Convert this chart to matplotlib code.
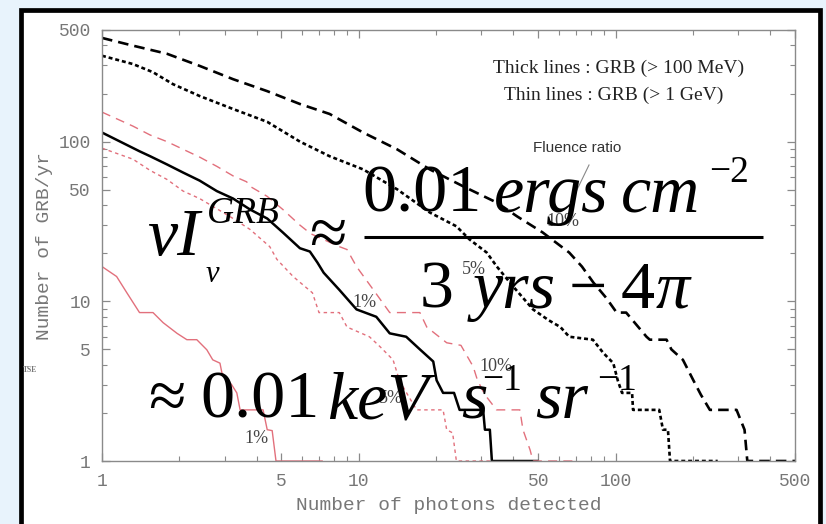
import matplotlib
matplotlib.use("Agg")
import matplotlib.pyplot as plt
from matplotlib.patches import Rectangle
from matplotlib.ticker import FixedLocator, NullFormatter, FixedFormatter

# ---- data: cumulative GRB rate vs. number of detected photons ----
# thick lines: GRB (> 100 MeV), fluence ratio 10%, 5%, 1%
hi10_x = [1, 1.32, 1.79, 2.4, 3.24, 4.4, 5.9, 7.7, 10.4, 14.1, 18.9, 25.5, 34.5, 41.4, 52, 66, 74, 82, 92,
          101, 110, 120, 132, 136, 158, 165, 183, 201, 215, 233, 296, 318, 326, 500]
hi10_y = [446, 399, 355, 298, 246, 207, 172, 149, 114, 89.5, 67, 52.5, 41.5, 34, 27, 20.2, 16.5, 13.1, 10.5,
          8.5, 8.5, 7.2, 6.0, 5.75, 5.75, 5.0, 4.3, 3.2, 2.6, 2.09, 2.09, 1.57, 1.0, 1.0]

hi5_x = [1, 1.32, 1.58, 1.89, 2.4, 3.24, 4.4, 5.9, 7.7, 10.4, 14.1, 18.9, 24, 27, 31.5, 34.5, 39.9, 47.7, 55,
         61, 66, 81.6, 89.5, 98, 102, 106, 116, 117, 148, 153, 160, 163, 250]
hi5_y = [345, 306, 272, 229, 193, 160, 133, 100, 81, 67, 50.3, 36, 29.5, 24.4, 20.2, 16.5, 12.4, 8.9, 7.6,
         6.9, 6.0, 5.75, 4.76, 4.1, 3.2, 2.67, 2.67, 2.09, 2.09, 1.57, 1.57, 1.0, 1.0]

hi1_x = [1, 1.4, 1.54, 1.79, 2.07, 2.4, 2.8, 3.24, 3.77, 4.4, 5.06, 5.9, 6.45, 6.9, 7.3, 8.4, 9.8, 11.7, 13.2,
         15.3, 17.3, 19.5, 20.1, 21.3, 23.5, 24.7, 30.5, 31, 32.4, 33, 49.6]
hi1_y = [114, 87, 81, 72, 64, 57, 49, 44, 37.6, 33, 27, 21.5, 20.5, 17.5, 15.1, 11.8, 8.9, 8.0, 6.3,
         6.0, 5.0, 4.2, 3.2, 2.67, 2.67, 2.09, 2.09, 1.57, 1.57, 1.0, 1.0]

# thin lines: GRB (> 1 GeV), fluence ratio 10%, 5%, 1%
lo10_x = [1, 1.32, 1.54, 1.79, 2.07, 2.4, 2.8, 3.24, 3.66, 3.77, 4.4, 5.06, 5.9, 6.5, 8.4, 9.0, 9.8, 11.4,
          13.2, 17.3, 18.4, 22, 25, 27.9, 29, 31, 34.4, 42.4, 43.6, 46.5, 47.7, 71]
lo10_y = [153, 125, 110, 100, 89.5, 80, 70, 61, 56, 52.5, 45.4, 37.6, 30, 26.5, 22, 21.1, 16.5, 11.8,
          8.5, 8.5, 6.9, 5.5, 5.3, 3.9, 3.2, 2.6, 2.09, 2.09, 1.57, 1.17, 1.0, 1.0]

lo5_x = [1, 1.32, 1.54, 1.79, 2.07, 2.4, 2.8, 3.24, 3.77, 4.5, 4.8, 5.55, 6.6, 7.0, 8.4, 9.0, 11.0, 12.1,
         13.6, 14.4, 15.5, 16.8, 21.3, 22, 23.2, 24, 33]
lo5_y = [91, 77.6, 66, 58, 49, 44, 38, 33, 28.2, 22, 18.3, 14.3, 11.3, 8.5, 8.5, 6.9, 6.0, 5.2,
         4.3, 3.2, 2.6, 2.09, 2.09, 1.57, 1.5, 1.0, 1.0]

lo1_x = [1, 1.14, 1.25, 1.4, 1.58, 1.73, 1.96, 2.14, 2.34, 2.56, 2.7, 2.88, 2.93, 3.2, 3.35, 3.45, 4.24,
         4.4, 4.6, 4.76, 7.2]
lo1_y = [16.5, 14.3, 11.3, 8.5, 8.5, 7.35, 6.3, 5.75, 5.75, 4.97, 4.3, 4.1, 3.57, 3.0, 2.67, 2.09, 2.09,
         1.57, 1.55, 1.0, 1.0]

tick_vals = [1, 5, 10, 50, 100, 500]
tick_text = ["1", "5", "10", "50", "100", "500"]

# percentage labels (x, y, text)
pct_labels = [(62.4, 31.6, "10%"), (28.1, 15.8, "5%"), (10.5, 9.8, "1%"),
              (34.2, 3.89, "10%"), (13.3, 2.45, "5%"), (3.98, 1.39, "1%")]

W, H = 826, 524
BG = "#e8f3fc"
RED = "#e2707c"
GREY = "#777777"

fig = plt.figure(figsize=(W / 100, H / 100), dpi=100, facecolor=BG)

# slide panel: white box with heavy black frame
bg = fig.add_axes([0, 0, 1, 1], zorder=0)
bg.set_xlim(0, W)
bg.set_ylim(H, 0)
bg.axis("off")
bg.add_patch(Rectangle((21, 9.5), 799, 540, facecolor="white", edgecolor="black", linewidth=3.4))

# main log-log chart
ax = fig.add_axes([102 / W, 1 - 461 / H, (795 - 102) / W, (461 - 30) / H], zorder=1)
ax.set_xscale("log")
ax.set_yscale("log")
ax.set_xlim(1, 500)
ax.set_ylim(1, 500)
ax.set_facecolor("white")

ax.plot(hi10_x, hi10_y, color="black", lw=1.9, ls=(0, (4, 2.3)), solid_capstyle="butt")
ax.plot(hi5_x, hi5_y, color="black", lw=1.9, ls=(0, (1.5, 1.1)))
ax.plot(hi1_x, hi1_y, color="black", lw=1.8, ls="-")
ax.plot(lo10_x, lo10_y, color=RED, lw=1.0, ls=(0, (6.5, 4.5)))
ax.plot(lo5_x, lo5_y, color=RED, lw=1.0, ls=(0, (2.5, 2.5)))
ax.plot(lo1_x, lo1_y, color=RED, lw=1.0, ls="-")

for sp in ax.spines.values():
    sp.set_color("#8a8a8a")
    sp.set_linewidth(1.0)

mono = "Liberation Mono"
for axis in (ax.xaxis, ax.yaxis):
    axis.set_major_locator(FixedLocator(tick_vals))
    axis.set_major_formatter(FixedFormatter(tick_text))
    axis.set_minor_locator(FixedLocator([v for d in (1, 10, 100) for v in range(2 * d, 10 * d, d)
                                         if d * 2 <= v <= 500 and v not in tick_vals]))
    axis.set_minor_formatter(NullFormatter())
ax.tick_params(which="both", direction="in", top=True, right=True, colors="#8a8a8a",
               labelcolor=GREY, labelsize=13)
ax.tick_params(which="major", length=6, width=0.9)
ax.tick_params(which="minor", length=3.5, width=0.8)
ax.tick_params(axis="x", pad=9)
ax.tick_params(axis="y", pad=8)
for lab in ax.get_xticklabels() + ax.get_yticklabels():
    lab.set_fontfamily(mono)

ax.set_xlabel("Number of photons detected", family=mono, fontsize=14, color=GREY, labelpad=5)
ax.set_ylabel("Number of GRB/yr", family=mono, fontsize=14, color=GREY, labelpad=4)

for px, py, t in pct_labels:
    ax.text(px, py, t, family="Liberation Serif", fontsize=13, color="#444444",
            ha="center", va="center")

# overlay: annotations and the big formula, in pixel coordinates
fg = fig.add_axes([0, 0, 1, 1], zorder=2)
fg.set_xlim(0, W)
fg.set_ylim(H, 0)
fg.axis("off")
fg.patch.set_alpha(0)

serif = "Liberation Serif"
fg.text(493, 68, "Thick lines : GRB (> 100 MeV)", family=serif, fontsize=14, color="#222222",
        ha="left", va="center")
fg.text(504, 95, "Thin lines : GRB (> 1 GeV)", family=serif, fontsize=14, color="#222222",
        ha="left", va="center")
fg.text(533, 148, "Fluence ratio", family="Liberation Sans", fontsize=11, color="#333333",
        ha="left", va="center")
fg.plot([589, 573], [165, 198], color="#888888", lw=0.8)
fg.text(23, 370, "TSE", family=serif, fontsize=5.5, color="#777777", fontweight="bold",
        ha="left", va="center")

BIG = 49
SUP = 27


def tok(x, y, s, size=BIG, italic=False):
    fg.text(x, y, s, family=serif, fontsize=size, style="italic" if italic else "normal",
            color="black", ha="left", va="baseline")


# first line: nu I_nu^GRB ~ (0.01 ergs cm^-2) / (3 yrs - 4 pi)
tok(147, 255, "νI", italic=True)
tok(207, 223, "GRB", size=27, italic=True)
tok(206, 282, "ν", size=22, italic=True)
tok(309, 255, "≈")
tok(362, 212, "0.01")
tok(494, 212, "ergs", italic=True)
tok(621, 212, "cm", italic=True)
tok(709, 182, "−2", size=SUP)
fg.plot([364, 763], [237, 237], color="black", lw=2.2, solid_capstyle="butt")
tok(420, 308, "3")
tok(473, 308, "yrs", italic=True)
tok(569, 308, "−")
tok(621, 308, "4")
tok(656, 308, "π", italic=True)

# second line: ~ 0.01 keV s^-1 sr^-1
tok(148, 418, "≈")
tok(200, 418, "0.01")
tok(327, 418, "keV", italic=True)
tok(461, 418, "s", italic=True)
tok(482, 390, "−1", size=SUP)
tok(535, 418, "sr", italic=True)
tok(597, 390, "−1", size=SUP)

fig.savefig("out.png", dpi=100, facecolor=BG)
